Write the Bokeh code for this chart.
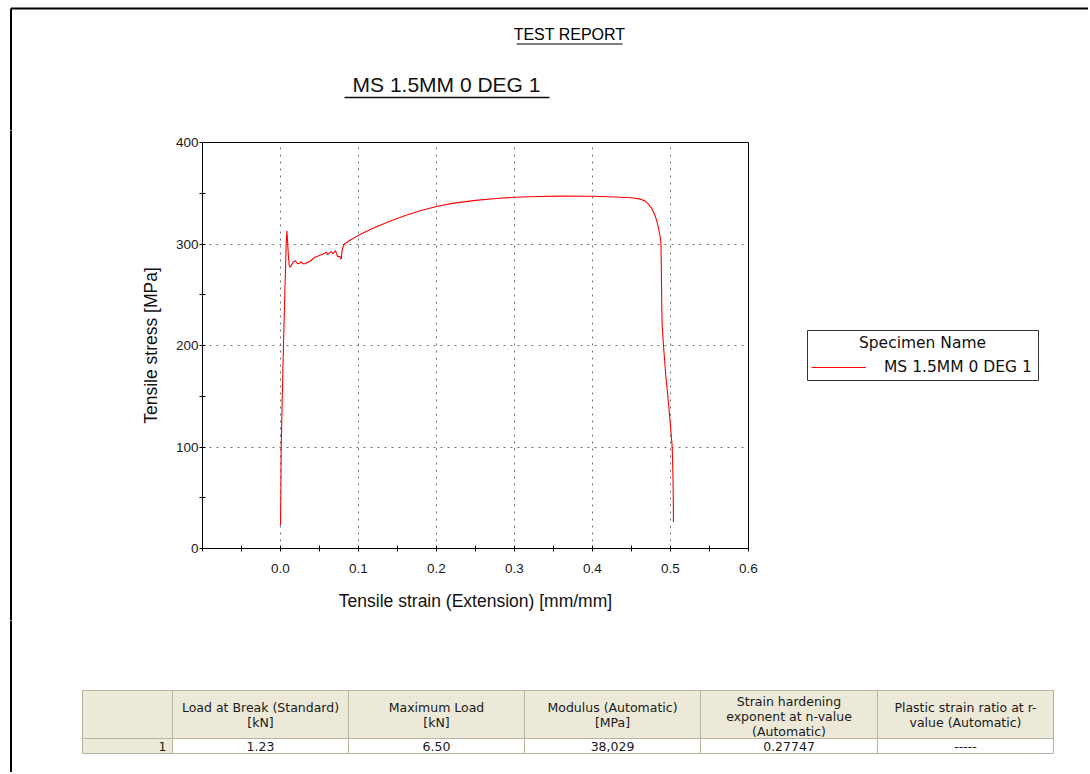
from bokeh.plotting import figure
from bokeh.layouts import column, row
from bokeh.models import Legend, LegendItem, FixedTicker, Range1d
from bokeh.core.properties import value
from bokeh.embed import file_html
from bokeh.resources import INLINE

# ---------------- data ----------------
strain = [0.0, 0.0005, 0.0009, 0.0023, 0.0038, 0.0055, 0.0073, 0.0082, 0.0090,
          0.0100, 0.0112, 0.0124, 0.0140, 0.0165, 0.0192, 0.0218, 0.0245, 0.0265,
          0.0286, 0.0316, 0.0346, 0.0380, 0.0410, 0.0440, 0.0474, 0.0505, 0.0538,
          0.0565, 0.0586, 0.0603, 0.0625, 0.0650, 0.0667, 0.0690, 0.0705, 0.0720,
          0.0735, 0.0750, 0.0765, 0.0778, 0.0785, 0.0795, 0.0820, 0.0885, 0.1013,
          0.12, 0.14, 0.16, 0.18, 0.20, 0.22, 0.25, 0.28, 0.30, 0.33, 0.36, 0.40,
          0.43, 0.45, 0.46, 0.467, 0.472, 0.476, 0.479, 0.482, 0.4845, 0.4865,
          0.4878, 0.4882, 0.4885, 0.4888, 0.4893, 0.4910, 0.4940, 0.4966, 0.4995,
          0.5022, 0.5032, 0.5036, 0.5038]
stress = [23, 60, 100, 150, 200, 250, 300, 313, 304,
          290, 279, 277, 279, 282.5, 283.5, 280.5, 281, 282.5,
          280.5, 280.5, 282, 283, 285, 287, 288, 289, 290,
          291, 292, 289.5, 291, 292.5, 290.5, 292, 293.5, 290,
          287.5, 288, 287.5, 285, 290, 296, 300, 303.5, 309,
          316, 322.5, 328, 333, 337, 340, 343, 345, 346, 346.8, 347.2, 347,
          346.3, 345.5, 344.5, 342.5, 339, 335, 330, 324, 316, 308,
          300, 280, 260, 240, 220, 200, 170, 150, 125,
          100, 70, 45, 26]

x_major = [0.0, 0.1, 0.2, 0.3, 0.4, 0.5, 0.6]
x_minor = [-0.1, -0.05, 0.05, 0.15, 0.25, 0.35, 0.45, 0.55]
x_grid = [0.0, 0.1, 0.2, 0.3, 0.4, 0.5]
y_major = [0, 100, 200, 300, 400]
y_minor = [50, 150, 250, 350]
y_grid = [100, 200, 300]

report_title = "TEST REPORT"
chart_title = "MS 1.5MM 0 DEG 1"
legend_title = "Specimen Name"
series_name = "MS 1.5MM 0 DEG 1"

table_headers = [["Load at Break (Standard)", "[kN]"],
                 ["Maximum Load", "[kN]"],
                 ["Modulus (Automatic)", "[MPa]"],
                 ["Strain hardening", "exponent at n-value", "(Automatic)"],
                 ["Plastic strain ratio at r-", "value (Automatic)"]]
row_label = "1"
row_values = ["1.23", "6.50", "38,029", "0.27747", "-----"]

# ---------------- page layout (page pixel coordinates) ----------------
PAGE_W, PAGE_H = 1088, 772
HEAD_H = 130          # header band: y 0..130
MID_B = 620           # chart band: y 130..620
STRIP_W = 20
CHART_R = 768         # right edge of chart figure
BORDER_X, BORDER_Y = 10.5, 8
ARIAL = "Liberation Sans"
VERDANA = "DejaVu Sans"


def deco_fig(x0, x1, y0, y1):
    f = figure(width=int(x1 - x0), height=int(y1 - y0),
               x_range=Range1d(x0, x1), y_range=Range1d(y1, y0),
               x_axis_type=None, y_axis_type=None, min_border=0,
               output_backend="svg", toolbar_location=None,
               background_fill_color="white", border_fill_color="white")
    f.outline_line_color = None
    f.grid.visible = False
    f.frame_align = False
    return f


# ---- header ----
head = deco_fig(0, PAGE_W, 0, HEAD_H)
head.segment(x0=[BORDER_X, BORDER_X], y0=[BORDER_Y, BORDER_Y],
             x1=[PAGE_W + 5, BORDER_X], y1=[BORDER_Y, HEAD_H + 2],
             line_color="black", line_width=2)
head.text(x=[569], y=[34], text=[report_title], text_align="center",
          text_baseline="middle", text_font=value(ARIAL),
          text_font_size="16px", text_color="black")
head.segment(x0=[516], y0=[43.5], x1=[622], y1=[43.5], line_color="black",
             line_width=1.2)
head.text(x=[446], y=[84], text=[chart_title], text_align="center",
          text_baseline="middle", text_font=value(ARIAL),
          text_font_size="21px", text_color="#111111")
head.segment(x0=[344], y0=[97], x1=[549], y1=[97], line_color="#111111",
             line_width=1.6)

# ---- left strip (page border) ----
strip = deco_fig(0, STRIP_W, HEAD_H, MID_B)
strip.segment(x0=[BORDER_X], y0=[HEAD_H - 2], x1=[BORDER_X], y1=[MID_B + 2],
              line_color="black", line_width=2)

# ---- chart ----
p = figure(frame_width=546, frame_height=406,
           min_border_left=202 - STRIP_W, min_border_right=CHART_R - 748,
           min_border_top=142 - HEAD_H, min_border_bottom=MID_B - 548,
           x_range=Range1d(-0.1, 0.6), y_range=Range1d(0, 400),
           output_backend="svg", toolbar_location=None,
           background_fill_color="white", border_fill_color="white")
p.frame_align = False
p.outline_line_color = "black"
p.outline_line_width = 1

r = p.line(strain, stress, line_color="#ff0000", line_width=1.1)

for ax in (p.xaxis[0], p.yaxis[0]):
    ax.axis_line_color = "black"
    ax.major_tick_line_color = "black"
    ax.minor_tick_line_color = "black"
    ax.major_tick_in = 3
    ax.major_tick_out = 3
    ax.minor_tick_in = 3
    ax.minor_tick_out = 3
    ax.major_label_text_font = ARIAL
    ax.major_label_text_font_size = "13.5px"
    ax.major_label_text_color = "#1a1a1a"
    ax.axis_label_text_font = ARIAL
    ax.axis_label_text_font_size = "17.5px"
    ax.axis_label_text_font_style = "normal"
    ax.axis_label_text_color = "#111111"

p.xaxis.ticker = FixedTicker(ticks=x_major, minor_ticks=x_minor)
p.yaxis.ticker = FixedTicker(ticks=y_major, minor_ticks=y_minor)
p.xaxis.major_label_overrides = {t: f"{t:.1f}" for t in x_major}
p.xaxis.axis_label = "Tensile strain (Extension) [mm/mm]"
p.yaxis.axis_label = "Tensile stress [MPa]"
p.xaxis.major_label_standoff = 12
p.xaxis.axis_label_standoff = 15
p.yaxis.major_label_standoff = 1
p.yaxis.axis_label_standoff = 12

p.xgrid.ticker = FixedTicker(ticks=x_grid)
p.ygrid.ticker = FixedTicker(ticks=y_grid)
for g in (p.xgrid[0], p.ygrid[0]):
    g.grid_line_color = "#707070"
    g.grid_line_dash = "2 5"
    g.grid_line_width = 1

# ---- legend panel ----
lg = deco_fig(CHART_R, PAGE_W, HEAD_H, MID_B)
lg.quad(left=[807], right=[1038], top=[330], bottom=[380], fill_color="white",
        line_color="#333333", line_width=1)
lg.text(x=[922], y=[342], text=[legend_title], text_align="center",
        text_baseline="middle", text_font=value(VERDANA),
        text_font_size="15.5px", text_color="#111111")
# same series, drawn in this panel only as the legend's glyph source
# (its values lie outside this panel's pixel ranges, so nothing shows)
proxy = lg.line(x=strain, y=stress, line_color="#ff0000", line_width=1.1)
legend = Legend(items=[LegendItem(label=series_name, renderers=[proxy])],
                location=(811 - CHART_R, MID_B - 377),
                label_text_font=VERDANA, label_text_font_size="15.5px",
                label_text_color="#111111",
                glyph_width=55, glyph_height=20, label_height=20,
                label_standoff=18, padding=0, margin=0, spacing=0,
                border_line_alpha=0, background_fill_alpha=0)
lg.add_layout(legend)

# ---- table ----
tab = deco_fig(0, PAGE_W, MID_B, PAGE_H)
tab.segment(x0=[BORDER_X], y0=[MID_B - 2], x1=[BORDER_X], y1=[PAGE_H + 2],
            line_color="black", line_width=2)

COLS = [82, 172, 348, 524, 700, 877, 1053]
HEAD_T, HEAD_B, ROW_B = 690, 738, 753
BEIGE = "#ece9d8"
GRIDC = "#b8b4a4"

lefts, rights, tops, bottoms, fills = [], [], [], [], []
for i in range(len(COLS) - 1):
    lefts += [COLS[i], COLS[i]]
    rights += [COLS[i + 1], COLS[i + 1]]
    tops += [HEAD_T, HEAD_B]
    bottoms += [HEAD_B, ROW_B]
    fills += [BEIGE, BEIGE if i == 0 else "white"]
tab.quad(left=lefts, right=rights, top=tops, bottom=bottoms, fill_color=fills,
         line_color=GRIDC, line_width=1)

tx, ty, tt = [], [], []
for i, (hdr, val) in enumerate(zip(table_headers, row_values)):
    cx = (COLS[i + 1] + COLS[i + 2]) / 2
    n = len(hdr)
    mid = (HEAD_T + HEAD_B) / 2 + (2 if n == 3 else 0)
    for j, line in enumerate(hdr):
        tx.append(cx)
        ty.append(mid + (j - (n - 1) / 2) * 15)
        tt.append(line)
    tx.append(cx)
    ty.append((HEAD_B + ROW_B) / 2)
    tt.append(val)
tab.text(x=tx, y=ty, text=tt, text_align="center", text_baseline="middle",
         text_font=value(VERDANA), text_font_size="12.5px", text_color="#1a1a1a")
tab.text(x=[COLS[1] - 6], y=[(HEAD_B + ROW_B) / 2], text=[row_label],
         text_align="right", text_baseline="middle", text_font=value(VERDANA),
         text_font_size="12.5px", text_color="#1a1a1a")

page = column(head, row(strip, p, lg, spacing=0), tab, spacing=0)
open("out.html", "w").write(file_html(page, INLINE))
